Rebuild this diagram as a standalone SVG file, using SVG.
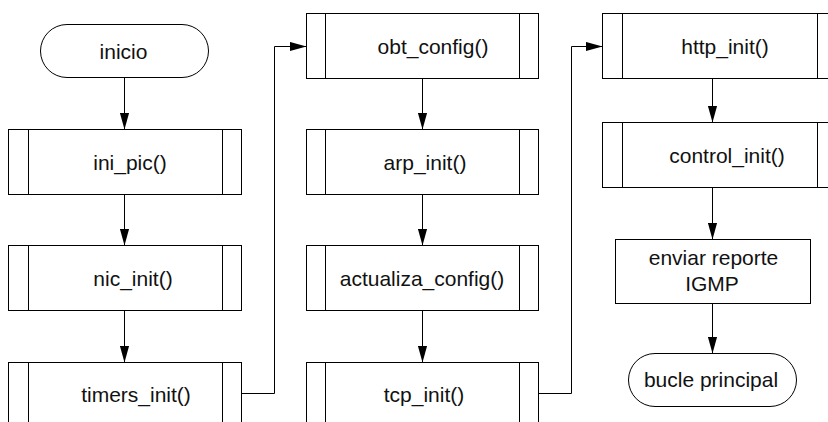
<svg xmlns="http://www.w3.org/2000/svg" width="828" height="422" viewBox="0 0 828 422">
<style>
.b{fill:#fff;stroke:#000;stroke-width:1}
.l{fill:none;stroke:#000;stroke-width:1}
.c{fill:none;stroke:#000;stroke-width:1;marker-end:url(#ah)}
text{font-family:"Liberation Sans",Arial,Helvetica,sans-serif;font-size:21px;fill:#111;text-anchor:middle}
</style>
<defs>
<marker id="ah" viewBox="0 0 17 10" refX="17" refY="5" markerWidth="17" markerHeight="10" markerUnits="userSpaceOnUse" orient="auto">
<path d="M0,0.3 L17,5 L0,9.7 Z" fill="#000"/>
</marker>
</defs>
<rect width="828" height="422" fill="#fff"/>
<g id="connectors">
<line class="c" x1="124.5" y1="77.5" x2="124.5" y2="129.5"/>
<line class="c" x1="124.5" y1="194.5" x2="124.5" y2="245.5"/>
<line class="c" x1="124.5" y1="310.5" x2="124.5" y2="362.5"/>
<polyline class="c" points="241.5,393.5 274.5,393.5 274.5,46.5 306.5,46.5"/>
<line class="c" x1="422.5" y1="78.5" x2="422.5" y2="129.5"/>
<line class="c" x1="422.5" y1="194.5" x2="422.5" y2="245.5"/>
<line class="c" x1="422.5" y1="310.5" x2="422.5" y2="362.5"/>
<polyline class="c" points="538.5,393.5 571.5,393.5 571.5,46.5 602.5,46.5"/>
<line class="c" x1="712.5" y1="78.5" x2="712.5" y2="122.5"/>
<line class="c" x1="712.5" y1="187.5" x2="712.5" y2="239.5"/>
<line class="c" x1="712.5" y1="303.5" x2="712.5" y2="353.5"/>
</g>
<g id="inicio">
<rect class="b" x="40.5" y="24.5" width="168" height="53" rx="26.5"/>
<text x="123.5" y="59">inicio</text>
</g>
<g id="ini_pic">
<rect class="b" x="8.5" y="129.5" width="233" height="65"/>
<path class="l" d="M28.5,129.5V194.5M222.5,129.5V194.5"/>
<text x="130" y="170">ini_pic()</text>
</g>
<g id="nic_init">
<rect class="b" x="8.5" y="245.5" width="233" height="65"/>
<path class="l" d="M28.5,245.5V310.5M222.5,245.5V310.5"/>
<text x="133" y="286">nic_init()</text>
</g>
<g id="timers_init">
<rect class="b" x="8.5" y="362.5" width="233" height="65"/>
<path class="l" d="M28.5,362.5V427.5M222.5,362.5V427.5"/>
<text x="136" y="402">timers_init()</text>
</g>
<g id="obt_config">
<rect class="b" x="306.5" y="13.5" width="232" height="65"/>
<path class="l" d="M325.5,13.5V78.5M519.5,13.5V78.5"/>
<text x="433" y="53.5">obt_config()</text>
</g>
<g id="arp_init">
<rect class="b" x="306.5" y="129.5" width="232" height="65"/>
<path class="l" d="M325.5,129.5V194.5M519.5,129.5V194.5"/>
<text x="425" y="170">arp_init()</text>
</g>
<g id="actualiza_config">
<rect class="b" x="306.5" y="245.5" width="232" height="65"/>
<path class="l" d="M325.5,245.5V310.5M519.5,245.5V310.5"/>
<text x="422" y="286">actualiza_config()</text>
</g>
<g id="tcp_init">
<rect class="b" x="306.5" y="362.5" width="232" height="65"/>
<path class="l" d="M325.5,362.5V427.5M519.5,362.5V427.5"/>
<text x="424" y="402">tcp_init()</text>
</g>
<g id="http_init">
<rect class="b" x="602.5" y="13.5" width="234" height="65"/>
<path class="l" d="M622.5,13.5V78.5M817.5,13.5V78.5"/>
<text x="725" y="53.5">http_init()</text>
</g>
<g id="control_init">
<rect class="b" x="602.5" y="122.5" width="234" height="65"/>
<path class="l" d="M622.5,122.5V187.5M817.5,122.5V187.5"/>
<text x="727" y="162.5">control_init()</text>
</g>
<g id="enviar_reporte">
<rect class="b" x="615.5" y="239.5" width="195" height="64"/>
<text x="713.5" y="265">enviar reporte</text>
<text x="712" y="290.5">IGMP</text>
</g>
<g id="bucle_principal">
<rect class="b" x="628.5" y="353.5" width="168" height="53" rx="26.5"/>
<text x="711" y="387">bucle principal</text>
</g>
</svg>
